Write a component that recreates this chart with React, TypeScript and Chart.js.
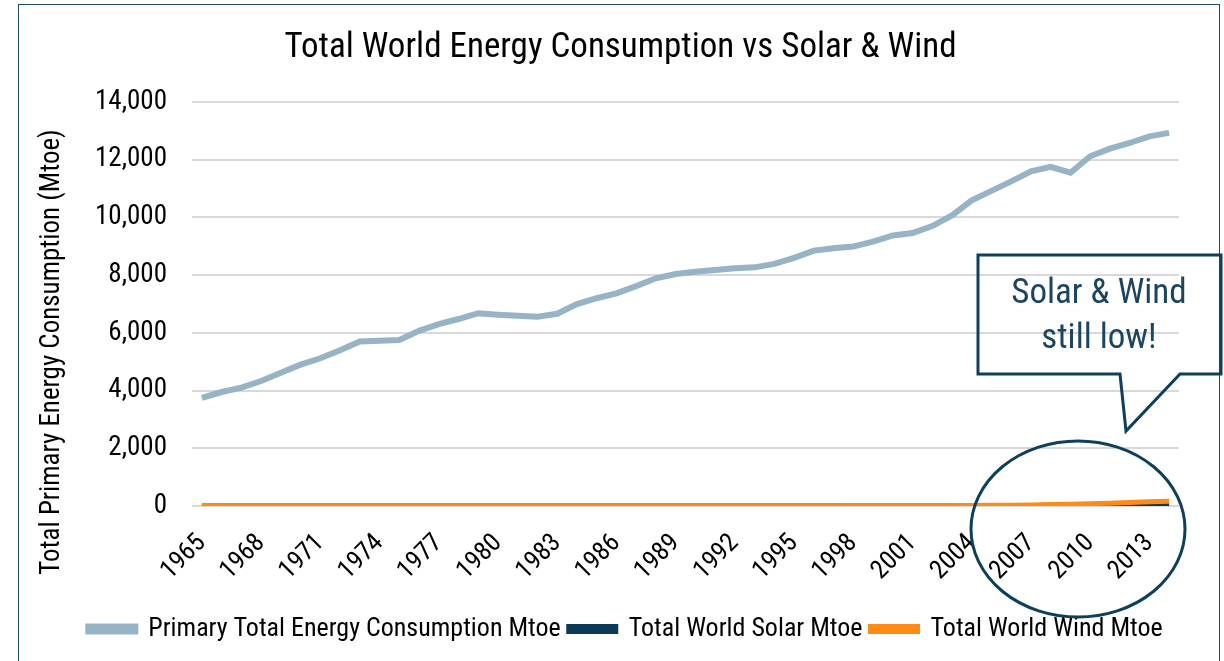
import React, { useEffect, useRef } from 'react';
import { Chart, registerables } from 'chart.js';

Chart.register(...registerables);

const years = [
  '1965', '1966', '1967', '1968', '1969', '1970', '1971', '1972', '1973', '1974',
  '1975', '1976', '1977', '1978', '1979', '1980', '1981', '1982', '1983', '1984',
  '1985', '1986', '1987', '1988', '1989', '1990', '1991', '1992', '1993', '1994',
  '1995', '1996', '1997', '1998', '1999', '2000', '2001', '2002', '2003', '2004',
  '2005', '2006', '2007', '2008', '2009', '2010', '2011', '2012', '2013', '2014',
];

const shownYearLabels = [
  '1965', '1968', '1971', '1974', '1977', '1980', '1983', '1986', '1989',
  '1992', '1995', '1998', '2001', '2004', '2007', '2010', '2013',
];

const primaryEnergy = [
  3750, 3950, 4100, 4330, 4620, 4900, 5120, 5400, 5700, 5730,
  5750, 6070, 6300, 6480, 6680, 6630, 6590, 6560, 6660, 7000,
  7200, 7370, 7620, 7890, 8040, 8120, 8180, 8240, 8270, 8390,
  8600, 8850, 8935, 8990, 9160, 9375, 9460, 9700, 10070, 10590,
  10920, 11250, 11600, 11750, 11550, 12120, 12385, 12580, 12810, 12930,
];

const solarEnergy = [
  0, 0, 0, 0, 0, 0, 0, 0, 0, 0,
  0, 0, 0, 0, 0, 0, 0, 0, 0, 0,
  0, 0, 0, 0, 0.1, 0.1, 0.1, 0.1, 0.1, 0.1,
  0.1, 0.2, 0.2, 0.2, 0.2, 0.3, 0.4, 0.5, 0.6, 0.8,
  1.0, 1.3, 1.7, 2.8, 4.6, 7.7, 14.5, 22.6, 31.4, 42.6,
];

const windEnergy = [
  0, 0, 0, 0, 0, 0, 0, 0, 0, 0,
  0, 0, 0, 0, 0, 0, 0, 0, 0, 0,
  0.1, 0.2, 0.3, 0.5, 0.6, 0.8, 0.9, 1.0, 1.2, 1.6,
  1.9, 2.5, 3.4, 4.6, 6.0, 7.1, 8.7, 11.6, 14.2, 19.2,
  23.7, 29.9, 38.5, 49.6, 62.4, 77.9, 98.3, 118.6, 143.4, 160.8,
];

const yTickValues = [0, 2000, 4000, 6000, 8000, 10000, 12000, 14000];

const TITLE = 'Total World Energy Consumption vs Solar & Wind';
const Y_TITLE = 'Total Primary Energy Consumption (Mtoe)';
const CALLOUT_LINES = ['Solar & Wind', 'still low!'];

const FONT = "'Roboto Condensed', Roboto, sans-serif";
const NAVY = '#0E3F5C';

const decorPlugin = {
  id: 'decor',
  afterLayout(chart: any) {
    // nudge title and legend to the same horizontal centre as the original
    if (chart.titleBlock) {
      chart.titleBlock.left += 13;
      chart.titleBlock.right += 13;
    }
    if (chart.legend) {
      chart.legend.left += 18;
      chart.legend.right += 18;
    }
  },
  afterDraw(chart: any) {
    const ctx = chart.ctx;
    ctx.save();
    // y axis title
    ctx.save();
    ctx.translate(52, 352);
    ctx.rotate(-Math.PI / 2);
    ctx.fillStyle = '#000';
    ctx.font = `27px ${FONT}`;
    ctx.textAlign = 'center';
    ctx.textBaseline = 'middle';
    ctx.fillText(Y_TITLE, 0, 0);
    ctx.restore();

    ctx.strokeStyle = NAVY;
    ctx.lineWidth = 3;
    ctx.lineJoin = 'miter';
    // ellipse around the end of the renewable series
    ctx.beginPath();
    ctx.ellipse(1078, 529, 107, 88, 0, 0, Math.PI * 2);
    ctx.stroke();
    // callout box with tail
    ctx.beginPath();
    ctx.moveTo(978, 255);
    ctx.lineTo(1221, 255);
    ctx.lineTo(1221, 374);
    ctx.lineTo(1180, 374);
    ctx.lineTo(1126, 431);
    ctx.lineTo(1120, 374);
    ctx.lineTo(978, 374);
    ctx.closePath();
    ctx.stroke();
    ctx.fillStyle = '#1B4560';
    ctx.font = `35px ${FONT}`;
    ctx.textAlign = 'center';
    ctx.textBaseline = 'middle';
    ctx.fillText(CALLOUT_LINES[0], 1099, 294);
    ctx.fillText(CALLOUT_LINES[1], 1099, 339);
    ctx.restore();
  },
};

export default function App() {
  const canvasRef = useRef<HTMLCanvasElement | null>(null);

  useEffect(() => {
    if (!canvasRef.current) return;
    const chart = new Chart(canvasRef.current, {
      type: 'line',
      data: {
        labels: years,
        datasets: [
          {
            label: 'Primary Total Energy Consumption Mtoe',
            data: primaryEnergy,
            borderColor: '#97B3C6',
            backgroundColor: '#97B3C6',
            borderWidth: 6,
            pointRadius: 0,
            tension: 0,
            order: 2,
          },
          {
            label: 'Total World Solar Mtoe',
            data: solarEnergy,
            borderColor: '#0B3A57',
            backgroundColor: '#0B3A57',
            borderWidth: 5,
            pointRadius: 0,
            order: 1,
          },
          {
            label: 'Total World Wind Mtoe',
            data: windEnergy,
            borderColor: '#FF8A14',
            backgroundColor: '#FF8A14',
            borderWidth: 5,
            pointRadius: 0,
            order: 0,
          },
        ],
      },
      options: {
        responsive: false,
        animation: false,
        layout: { padding: { left: 36, right: 45, top: 0, bottom: 9 } },
        plugins: {
          title: {
            display: true,
            text: TITLE,
            color: '#000',
            font: { family: FONT, size: 35, weight: 'normal' },
            padding: { top: 27, bottom: 33 },
          },
          legend: {
            position: 'bottom',
            labels: {
              color: '#000',
              font: { family: FONT, size: 26 },
              boxWidth: 47,
              boxHeight: 5,
              padding: 8,
              sort: (a: any, b: any) => a.datasetIndex - b.datasetIndex,
            },
          },
          tooltip: { enabled: false },
        },
        scales: {
          x: {
            offset: true,
            grid: { display: false, drawTicks: false },
            border: { display: false },
            afterFit: (axis: any) => {
              axis.height = 102;
            },
            ticks: {
              autoSkip: false,
              maxRotation: 45,
              minRotation: 45,
              color: '#000',
              padding: 22,
              font: { family: FONT, size: 26 },
              callback: function (this: any, value: any, index: number) {
                const lbl = years[index];
                return shownYearLabels.includes(lbl) ? lbl : '';
              },
            },
          },
          y: {
            min: 0,
            max: 14000,
            afterBuildTicks: (axis: any) => {
              axis.ticks = yTickValues.map((v) => ({ value: v }));
            },
            afterFit: (axis: any) => {
              axis.width = 156;
            },
            grid: { color: '#D9D9D9', lineWidth: 2, drawTicks: false },
            border: { display: false },
            ticks: {
              color: '#000',
              padding: 25,
              font: { family: FONT, size: 27 },
              callback: (v: any) => Number(v).toLocaleString('en-US'),
            },
          },
        },
      },
      plugins: [decorPlugin],
    });
    return () => chart.destroy();
  }, []);

  return (
    <div style={{ position: 'fixed', left: 0, top: 0, width: 1224, height: 661, background: '#fff' }}>
      <div
        style={{
          position: 'absolute',
          left: 18,
          top: 4,
          width: 1202,
          height: 700,
          border: '1.5px solid #1F4E69',
          boxSizing: 'border-box',
        }}
      />
      <canvas ref={canvasRef} width={1224} height={661} style={{ position: 'absolute', left: 0, top: 0 }} />
    </div>
  );
}
